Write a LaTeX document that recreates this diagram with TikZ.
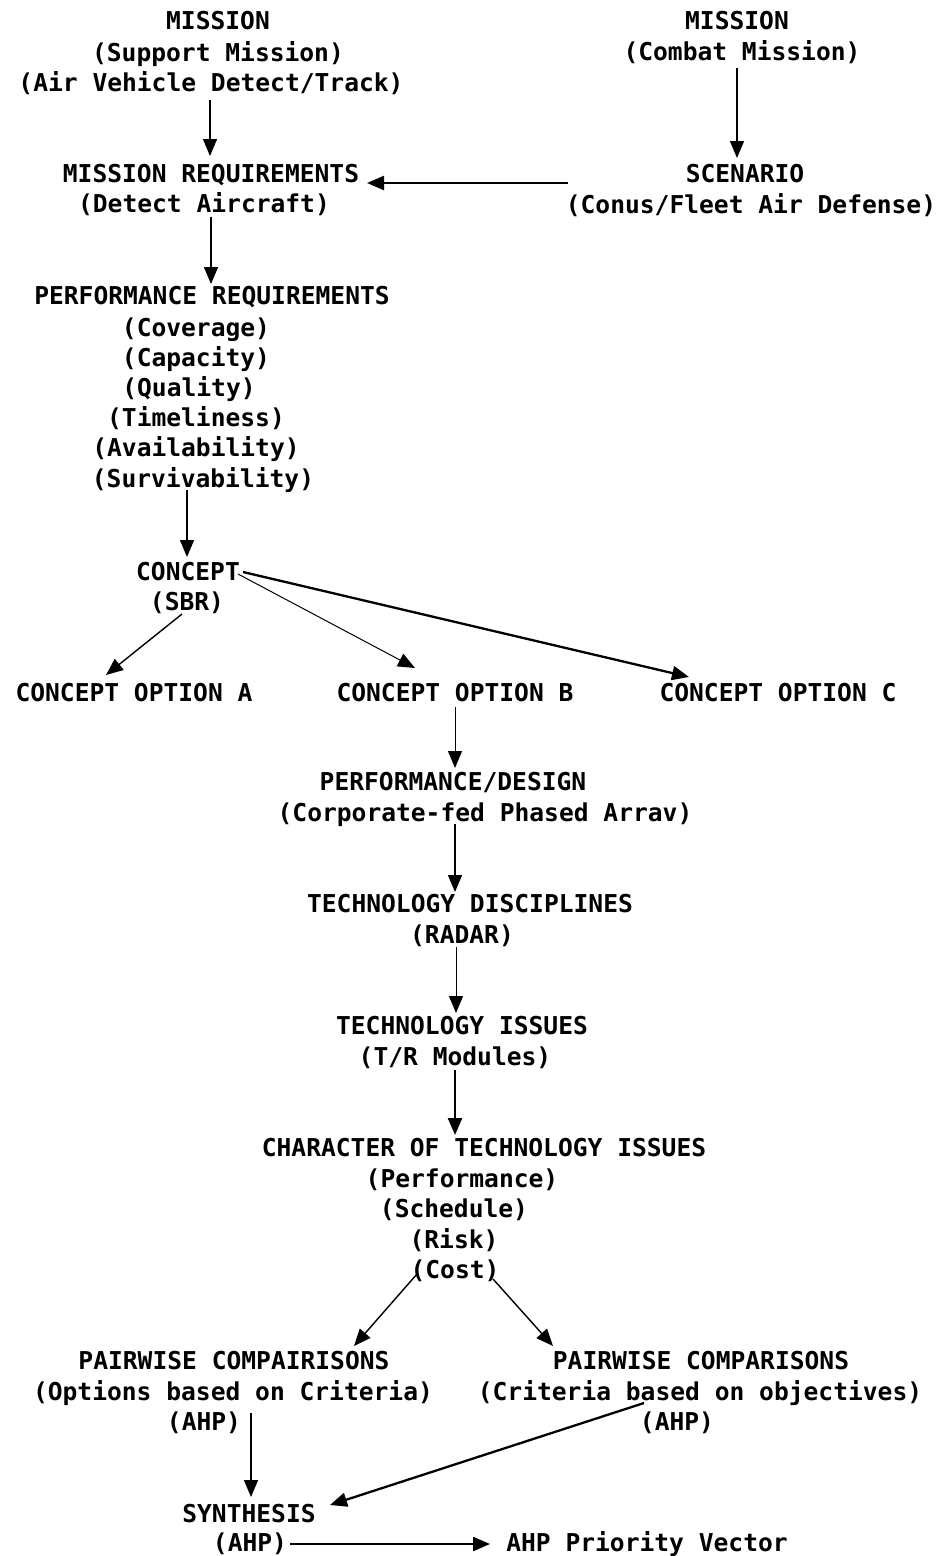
\documentclass[tikz,border=0pt]{standalone}
\usepackage{fontspec}
\newfontfamily\dmono{DejaVu Sans Mono}
\usetikzlibrary{arrows.meta,calc}
\tikzset{
  txt/.style={font=\dmono\bfseries\fontsize{24.6}{30}\selectfont, inner sep=0pt, anchor=base, text height=18pt, text depth=6pt},
  arr/.style={line width=1.4pt, -{Triangle[length=17pt,width=14pt]}},
  tarr/.style={line width=2.3pt, -{Triangle[length=17pt,width=14pt]}},
}
\begin{document}
\begin{tikzpicture}[x=1pt,y=-1pt]
\fill[white] (0,0) rectangle (943,1556);
\useasboundingbox (0,0) rectangle (943,1556);
% top left
\node[txt] (msA1) at (218,29) {MISSION};
\node[txt] (msA2) at (218,61) {(Support Mission)};
\node[txt] (msA3) at (211,91) {(Air Vehicle Detect/Track)};
% top right
\node[txt] (msB1) at (737,29) {MISSION};
\node[txt] (msB2) at (742,60) {(Combat Mission)};
\node[txt] (mr1) at (211,182) {MISSION REQUIREMENTS};
\node[txt] (mr2) at (204,212) {(Detect Aircraft)};
\node[txt] (sc1) at (745,182) {SCENARIO};
\node[txt] (sc2) at (751,213) {(Conus/Fleet Air Defense)};
% performance requirements
\node[txt] (pr1) at (212,304) {PERFORMANCE REQUIREMENTS};
\node[txt] (pr2) at (196,336) {(Coverage)};
\node[txt] (pr3) at (196,366) {(Capacity)};
\node[txt] (pr4) at (189,396) {(Quality)};
\node[txt] (pr5) at (196,426) {(Timeliness)};
\node[txt] (pr6) at (196,456) {(Availability)};
\node[txt] (pr7) at (203,487) {(Survivability)};
% concept
\node[txt] (cc1) at (188,580) {CONCEPT};
\node[txt] (cc2) at (187,610) {(SBR)};
\node[txt] (coA) at (134,701) {CONCEPT OPTION A};
\node[txt] (coB) at (455,701) {CONCEPT OPTION B};
\node[txt] (coC) at (778,701) {CONCEPT OPTION C};
% chain
\node[txt] (pd1) at (453,790) {PERFORMANCE/DESIGN};
\node[txt] (pd2) at (485,821) {(Corporate-fed Phased Arrav)};
\node[txt] (td1) at (470,912) {TECHNOLOGY DISCIPLINES};
\node[txt] (td2) at (462,943) {(RADAR)};
\node[txt] (ti1) at (462,1034) {TECHNOLOGY ISSUES};
\node[txt] (ti2) at (455,1065) {(T/R Modules)};
\node[txt] (ch1) at (484,1156) {CHARACTER OF TECHNOLOGY ISSUES};
\node[txt] (ch2) at (462,1187) {(Performance)};
\node[txt] (ch3) at (454,1217) {(Schedule)};
\node[txt] (ch4) at (454,1248) {(Risk)};
\node[txt] (ch5) at (455,1278) {(Cost)};
% pairwise
\node[txt] (pw1) at (234,1369) {PAIRWISE COMPAIRISONS};
\node[txt] (pw2) at (233,1400) {(Options based on Criteria)};
\node[txt] (pw3) at (204,1430) {(AHP)};
\node[txt] (pc1) at (701,1369) {PAIRWISE COMPARISONS};
\node[txt] (pc2) at (700,1400) {(Criteria based on objectives)};
\node[txt] (pc3) at (677,1430) {(AHP)};
% synthesis
\node[txt] (sy1) at (249,1522) {SYNTHESIS};
\node[txt] (sy2) at (250,1551) {(AHP)};
\node[txt] (pv) at (647,1551) {AHP Priority Vector};
% connectors
\draw[arr] ($(msA3.base)+(-1,9)$) -- ($(mr1.base)+(-1,-26)$);
\draw[arr] ($(msB2.base)+(-5,8)$) -- ($(sc1.base)+(-8,-24)$);
\draw[tarr] ($(sc1.base)+(-177,1)$) -- ($(mr1.base)+(156,1)$);
\draw[arr] ($(mr2.base)+(7,5)$) -- ($(pr1.base)+(-1,-20)$);
\draw[arr] ($(pr7.base)+(-16,3)$) -- ($(cc1.base)+(-1,-23)$);
\draw[arr] ($(cc2.base)+(-5,4)$) -- ($(coA.base)+(-28,-26)$);
\draw[arr,line width=1pt] ($(cc1.base)+(50,-6)$) -- ($(coB.base)+(-40,-33)$);
\draw[tarr] ($(cc1.base)+(55,-8)$) -- ($(coC.base)+(-89,-24)$);
\draw[arr,line width=1pt] ($(coB.base)+(0,6)$) -- ($(pd1.base)+(2,-22)$);
\draw[arr] ($(pd2.base)+(-30,3)$) -- ($(td1.base)+(-15,-20)$);
\draw[arr,line width=1pt] ($(td2.base)+(-6,4)$) -- ($(ti1.base)+(-6,-21)$);
\draw[tarr] ($(ti2.base)+(0,5)$) -- ($(ch1.base)+(-29,-21)$);
\draw[arr] ($(ch5.base)+(-38,-4)$) -- ($(pw1.base)+(120,-23)$);
\draw[arr] ($(ch5.base)+(38,1)$) -- ($(pc1.base)+(-148,-23)$);
\draw[arr] ($(pw3.base)+(47,-17)$) -- ($(sy1.base)+(2,-25)$);
\draw[tarr] ($(pc2.base)+(-56,3)$) -- ($(sy1.base)+(81,-17)$);
\draw[tarr] ($(sy2.base)+(40,-7)$) -- ($(pv.base)+(-157,-7)$);
\end{tikzpicture}
\end{document}
